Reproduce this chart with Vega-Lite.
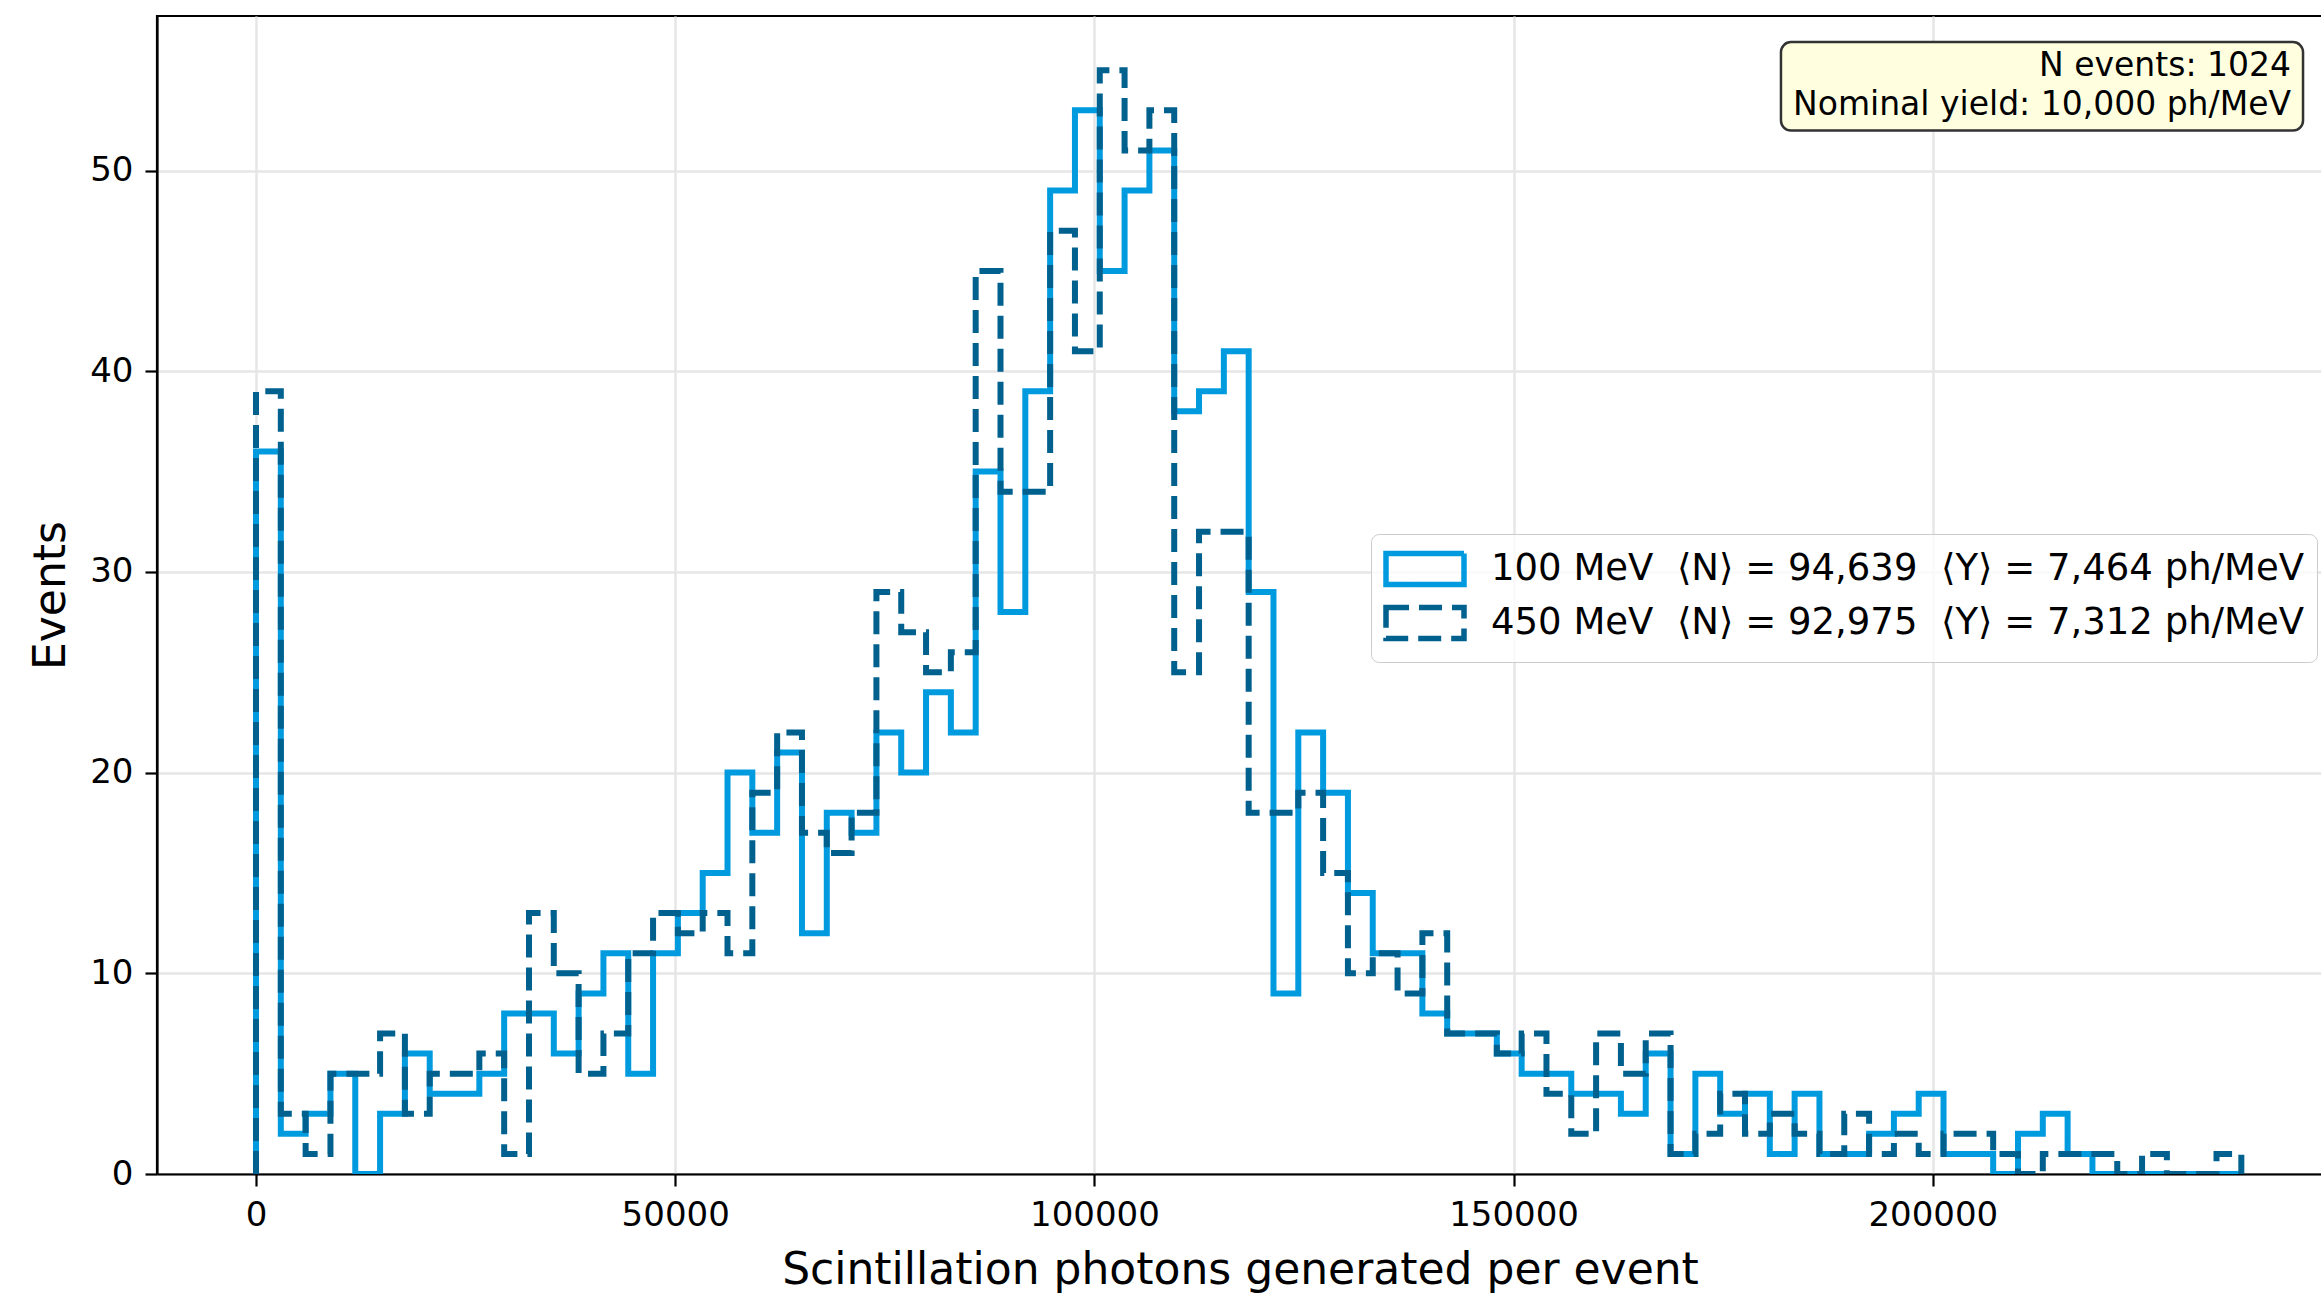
{
  "$schema": "https://vega.github.io/schema/vega-lite/v6.json",
  "width": 2166,
  "height": 1158,
  "autosize": {"type": "none"},
  "padding": {"left": 157, "top": 16, "right": 0, "bottom": 123},
  "background": "white",
  "config": {
    "font": "DejaVu Sans",
    "view": {"stroke": "black", "strokeWidth": 2.2},
    "axis": {
      "domainColor": "black", "domainWidth": 2.2,
      "tickColor": "black", "tickWidth": 2.2, "tickSize": 12,
      "labelFont": "DejaVu Sans", "labelFontSize": 34, "labelColor": "black",
      "titleFont": "DejaVu Sans", "titleFontSize": 44, "titleFontWeight": "normal", "titleColor": "black",
      "gridColor": "#e6e6e6", "gridWidth": 2.5
    },
    "legend": {
      "symbolType": "M-1.95,-0.78H1.95V0.78H-1.95Z",
      "symbolSize": 1600,
      "symbolStrokeWidth": 5.5,
      "symbolFillColor": "transparent",
      "labelFont": "DejaVu Sans", "labelFontSize": 37, "labelColor": "black", "labelLimit": 3000,
      "labelOffset": 43, "rowPadding": 0, "padding": 12, "symbolOffset": 19,
      "fillColor": "rgba(255,255,255,0.8)", "strokeColor": "#cccccc", "cornerRadius": 8
    }
  },
  "datasets": {
    "hist": [
      {"series":"100 MeV","bin":-1,"start":0,"count":0},
      {"series":"100 MeV","bin":0,"start":0,"count":36},
      {"series":"100 MeV","bin":1,"start":2960,"count":2},
      {"series":"100 MeV","bin":2,"start":5920,"count":3},
      {"series":"100 MeV","bin":3,"start":8880,"count":5},
      {"series":"100 MeV","bin":4,"start":11840,"count":0},
      {"series":"100 MeV","bin":5,"start":14800,"count":3},
      {"series":"100 MeV","bin":6,"start":17760,"count":6},
      {"series":"100 MeV","bin":7,"start":20720,"count":4},
      {"series":"100 MeV","bin":8,"start":23680,"count":4},
      {"series":"100 MeV","bin":9,"start":26640,"count":5},
      {"series":"100 MeV","bin":10,"start":29600,"count":8},
      {"series":"100 MeV","bin":11,"start":32560,"count":8},
      {"series":"100 MeV","bin":12,"start":35520,"count":6},
      {"series":"100 MeV","bin":13,"start":38480,"count":9},
      {"series":"100 MeV","bin":14,"start":41440,"count":11},
      {"series":"100 MeV","bin":15,"start":44400,"count":5},
      {"series":"100 MeV","bin":16,"start":47360,"count":11},
      {"series":"100 MeV","bin":17,"start":50320,"count":13},
      {"series":"100 MeV","bin":18,"start":53280,"count":15},
      {"series":"100 MeV","bin":19,"start":56240,"count":20},
      {"series":"100 MeV","bin":20,"start":59200,"count":17},
      {"series":"100 MeV","bin":21,"start":62160,"count":21},
      {"series":"100 MeV","bin":22,"start":65120,"count":12},
      {"series":"100 MeV","bin":23,"start":68080,"count":18},
      {"series":"100 MeV","bin":24,"start":71040,"count":17},
      {"series":"100 MeV","bin":25,"start":74000,"count":22},
      {"series":"100 MeV","bin":26,"start":76960,"count":20},
      {"series":"100 MeV","bin":27,"start":79920,"count":24},
      {"series":"100 MeV","bin":28,"start":82880,"count":22},
      {"series":"100 MeV","bin":29,"start":85840,"count":35},
      {"series":"100 MeV","bin":30,"start":88800,"count":28},
      {"series":"100 MeV","bin":31,"start":91760,"count":39},
      {"series":"100 MeV","bin":32,"start":94720,"count":49},
      {"series":"100 MeV","bin":33,"start":97680,"count":53},
      {"series":"100 MeV","bin":34,"start":100640,"count":45},
      {"series":"100 MeV","bin":35,"start":103600,"count":49},
      {"series":"100 MeV","bin":36,"start":106560,"count":51},
      {"series":"100 MeV","bin":37,"start":109520,"count":38},
      {"series":"100 MeV","bin":38,"start":112480,"count":39},
      {"series":"100 MeV","bin":39,"start":115440,"count":41},
      {"series":"100 MeV","bin":40,"start":118400,"count":29},
      {"series":"100 MeV","bin":41,"start":121360,"count":9},
      {"series":"100 MeV","bin":42,"start":124320,"count":22},
      {"series":"100 MeV","bin":43,"start":127280,"count":19},
      {"series":"100 MeV","bin":44,"start":130240,"count":14},
      {"series":"100 MeV","bin":45,"start":133200,"count":11},
      {"series":"100 MeV","bin":46,"start":136160,"count":11},
      {"series":"100 MeV","bin":47,"start":139120,"count":8},
      {"series":"100 MeV","bin":48,"start":142080,"count":7},
      {"series":"100 MeV","bin":49,"start":145040,"count":7},
      {"series":"100 MeV","bin":50,"start":148000,"count":6},
      {"series":"100 MeV","bin":51,"start":150960,"count":5},
      {"series":"100 MeV","bin":52,"start":153920,"count":5},
      {"series":"100 MeV","bin":53,"start":156880,"count":4},
      {"series":"100 MeV","bin":54,"start":159840,"count":4},
      {"series":"100 MeV","bin":55,"start":162800,"count":3},
      {"series":"100 MeV","bin":56,"start":165760,"count":6},
      {"series":"100 MeV","bin":57,"start":168720,"count":1},
      {"series":"100 MeV","bin":58,"start":171680,"count":5},
      {"series":"100 MeV","bin":59,"start":174640,"count":3},
      {"series":"100 MeV","bin":60,"start":177600,"count":4},
      {"series":"100 MeV","bin":61,"start":180560,"count":1},
      {"series":"100 MeV","bin":62,"start":183520,"count":4},
      {"series":"100 MeV","bin":63,"start":186480,"count":1},
      {"series":"100 MeV","bin":64,"start":189440,"count":1},
      {"series":"100 MeV","bin":65,"start":192400,"count":2},
      {"series":"100 MeV","bin":66,"start":195360,"count":3},
      {"series":"100 MeV","bin":67,"start":198320,"count":4},
      {"series":"100 MeV","bin":68,"start":201280,"count":1},
      {"series":"100 MeV","bin":69,"start":204240,"count":1},
      {"series":"100 MeV","bin":70,"start":207200,"count":0},
      {"series":"100 MeV","bin":71,"start":210160,"count":2},
      {"series":"100 MeV","bin":72,"start":213120,"count":3},
      {"series":"100 MeV","bin":73,"start":216080,"count":1},
      {"series":"100 MeV","bin":74,"start":219040,"count":0},
      {"series":"100 MeV","bin":75,"start":222000,"count":0},
      {"series":"100 MeV","bin":76,"start":224960,"count":0},
      {"series":"100 MeV","bin":77,"start":227920,"count":0},
      {"series":"100 MeV","bin":78,"start":230880,"count":0},
      {"series":"100 MeV","bin":79,"start":233840,"count":0},
      {"series":"100 MeV","bin":80,"start":236800,"count":0},
      {"series":"450 MeV","bin":-1,"start":0,"count":0},
      {"series":"450 MeV","bin":0,"start":0,"count":39},
      {"series":"450 MeV","bin":1,"start":2960,"count":3},
      {"series":"450 MeV","bin":2,"start":5920,"count":1},
      {"series":"450 MeV","bin":3,"start":8880,"count":5},
      {"series":"450 MeV","bin":4,"start":11840,"count":5},
      {"series":"450 MeV","bin":5,"start":14800,"count":7},
      {"series":"450 MeV","bin":6,"start":17760,"count":3},
      {"series":"450 MeV","bin":7,"start":20720,"count":5},
      {"series":"450 MeV","bin":8,"start":23680,"count":5},
      {"series":"450 MeV","bin":9,"start":26640,"count":6},
      {"series":"450 MeV","bin":10,"start":29600,"count":1},
      {"series":"450 MeV","bin":11,"start":32560,"count":13},
      {"series":"450 MeV","bin":12,"start":35520,"count":10},
      {"series":"450 MeV","bin":13,"start":38480,"count":5},
      {"series":"450 MeV","bin":14,"start":41440,"count":7},
      {"series":"450 MeV","bin":15,"start":44400,"count":11},
      {"series":"450 MeV","bin":16,"start":47360,"count":13},
      {"series":"450 MeV","bin":17,"start":50320,"count":12},
      {"series":"450 MeV","bin":18,"start":53280,"count":13},
      {"series":"450 MeV","bin":19,"start":56240,"count":11},
      {"series":"450 MeV","bin":20,"start":59200,"count":19},
      {"series":"450 MeV","bin":21,"start":62160,"count":22},
      {"series":"450 MeV","bin":22,"start":65120,"count":17},
      {"series":"450 MeV","bin":23,"start":68080,"count":16},
      {"series":"450 MeV","bin":24,"start":71040,"count":18},
      {"series":"450 MeV","bin":25,"start":74000,"count":29},
      {"series":"450 MeV","bin":26,"start":76960,"count":27},
      {"series":"450 MeV","bin":27,"start":79920,"count":25},
      {"series":"450 MeV","bin":28,"start":82880,"count":26},
      {"series":"450 MeV","bin":29,"start":85840,"count":45},
      {"series":"450 MeV","bin":30,"start":88800,"count":34},
      {"series":"450 MeV","bin":31,"start":91760,"count":34},
      {"series":"450 MeV","bin":32,"start":94720,"count":47},
      {"series":"450 MeV","bin":33,"start":97680,"count":41},
      {"series":"450 MeV","bin":34,"start":100640,"count":55},
      {"series":"450 MeV","bin":35,"start":103600,"count":51},
      {"series":"450 MeV","bin":36,"start":106560,"count":53},
      {"series":"450 MeV","bin":37,"start":109520,"count":25},
      {"series":"450 MeV","bin":38,"start":112480,"count":32},
      {"series":"450 MeV","bin":39,"start":115440,"count":32},
      {"series":"450 MeV","bin":40,"start":118400,"count":18},
      {"series":"450 MeV","bin":41,"start":121360,"count":18},
      {"series":"450 MeV","bin":42,"start":124320,"count":19},
      {"series":"450 MeV","bin":43,"start":127280,"count":15},
      {"series":"450 MeV","bin":44,"start":130240,"count":10},
      {"series":"450 MeV","bin":45,"start":133200,"count":11},
      {"series":"450 MeV","bin":46,"start":136160,"count":9},
      {"series":"450 MeV","bin":47,"start":139120,"count":12},
      {"series":"450 MeV","bin":48,"start":142080,"count":7},
      {"series":"450 MeV","bin":49,"start":145040,"count":7},
      {"series":"450 MeV","bin":50,"start":148000,"count":6},
      {"series":"450 MeV","bin":51,"start":150960,"count":7},
      {"series":"450 MeV","bin":52,"start":153920,"count":4},
      {"series":"450 MeV","bin":53,"start":156880,"count":2},
      {"series":"450 MeV","bin":54,"start":159840,"count":7},
      {"series":"450 MeV","bin":55,"start":162800,"count":5},
      {"series":"450 MeV","bin":56,"start":165760,"count":7},
      {"series":"450 MeV","bin":57,"start":168720,"count":1},
      {"series":"450 MeV","bin":58,"start":171680,"count":2},
      {"series":"450 MeV","bin":59,"start":174640,"count":4},
      {"series":"450 MeV","bin":60,"start":177600,"count":2},
      {"series":"450 MeV","bin":61,"start":180560,"count":3},
      {"series":"450 MeV","bin":62,"start":183520,"count":2},
      {"series":"450 MeV","bin":63,"start":186480,"count":1},
      {"series":"450 MeV","bin":64,"start":189440,"count":3},
      {"series":"450 MeV","bin":65,"start":192400,"count":1},
      {"series":"450 MeV","bin":66,"start":195360,"count":2},
      {"series":"450 MeV","bin":67,"start":198320,"count":1},
      {"series":"450 MeV","bin":68,"start":201280,"count":2},
      {"series":"450 MeV","bin":69,"start":204240,"count":2},
      {"series":"450 MeV","bin":70,"start":207200,"count":1},
      {"series":"450 MeV","bin":71,"start":210160,"count":0},
      {"series":"450 MeV","bin":72,"start":213120,"count":1},
      {"series":"450 MeV","bin":73,"start":216080,"count":1},
      {"series":"450 MeV","bin":74,"start":219040,"count":1},
      {"series":"450 MeV","bin":75,"start":222000,"count":0},
      {"series":"450 MeV","bin":76,"start":224960,"count":1},
      {"series":"450 MeV","bin":77,"start":227920,"count":0},
      {"series":"450 MeV","bin":78,"start":230880,"count":0},
      {"series":"450 MeV","bin":79,"start":233840,"count":1},
      {"series":"450 MeV","bin":80,"start":236800,"count":0}
    ]
  },
  "layer": [
    {
      "data": {"name": "hist"},
      "mark": {"type": "line", "interpolate": "step-after", "strokeWidth": 6, "clip": true},
      "encoding": {
        "x": {
          "field": "start", "type": "quantitative",
          "scale": {"domain": [-11808, 246541], "nice": false, "zero": false},
          "axis": {"values": [0, 50000, 100000, 150000, 200000], "format": "d", "labelPadding": 12, "titlePadding": 16, "grid": true},
          "title": "Scintillation photons generated per event"
        },
        "y": {
          "field": "count", "type": "quantitative",
          "scale": {"domain": [0, 57.7], "nice": false, "zero": true},
          "axis": {"values": [0, 10, 20, 30, 40, 50], "labelPadding": 12, "titlePadding": 16, "grid": true},
          "title": "Events"
        },
        "color": {
          "field": "series", "type": "nominal",
          "scale": {"domain": ["100 MeV", "450 MeV"], "range": ["#009ADE", "#00608E"]},
          "legend": {"title": null, "orient": "none", "legendX": 1214, "legendY": 518, "symbolType": "M-1.95,-0.78H1.95V0.78H-1.95Z",
            "labelExpr": "datum.label == '100 MeV' ? '100 MeV\u00a0 \u27e8N\u27e9 = 94,639\u00a0 \u27e8Y\u27e9 = 7,464 ph/MeV' : '450 MeV\u00a0 \u27e8N\u27e9 = 92,975\u00a0 \u27e8Y\u27e9 = 7,312 ph/MeV'"}
        },
        "strokeDash": {
          "field": "series", "type": "nominal",
          "scale": {"domain": ["100 MeV", "450 MeV"], "range": [[1, 0], [23, 10]]},
          "legend": {"title": null, "orient": "none", "legendX": 1214, "legendY": 518, "symbolType": "M-1.95,-0.78H1.95V0.78H-1.95Z",
            "labelExpr": "datum.label == '100 MeV' ? '100 MeV\u00a0 \u27e8N\u27e9 = 94,639\u00a0 \u27e8Y\u27e9 = 7,464 ph/MeV' : '450 MeV\u00a0 \u27e8N\u27e9 = 92,975\u00a0 \u27e8Y\u27e9 = 7,312 ph/MeV'"}
        },
        "order": {"field": "bin", "type": "quantitative"}
      }
    },
    {
      "data": {"values": [{}]},
      "mark": {"type": "rect", "cornerRadius": 10, "fill": "#ffffe0", "stroke": "#333333", "strokeWidth": 2.5},
      "encoding": {
        "x": {"datum": 181890, "type": "quantitative"},
        "x2": {"datum": 244160},
        "y": {"datum": 56.4, "type": "quantitative"},
        "y2": {"datum": 51.99}
      }
    },
    {
      "data": {"values": [{}]},
      "mark": {"type": "text", "text": "N events: 1024", "align": "right", "baseline": "middle", "fontSize": 33, "font": "DejaVu Sans", "color": "black"},
      "encoding": {
        "x": {"datum": 242725, "type": "quantitative"},
        "y": {"datum": 55.23, "type": "quantitative"}
      }
    },
    {
      "data": {"values": [{}]},
      "mark": {"type": "text", "text": "Nominal yield: 10,000 ph/MeV", "align": "right", "baseline": "middle", "fontSize": 33, "font": "DejaVu Sans", "color": "black"},
      "encoding": {
        "x": {"datum": 242725, "type": "quantitative"},
        "y": {"datum": 53.29, "type": "quantitative"}
      }
    }
  ]
}
